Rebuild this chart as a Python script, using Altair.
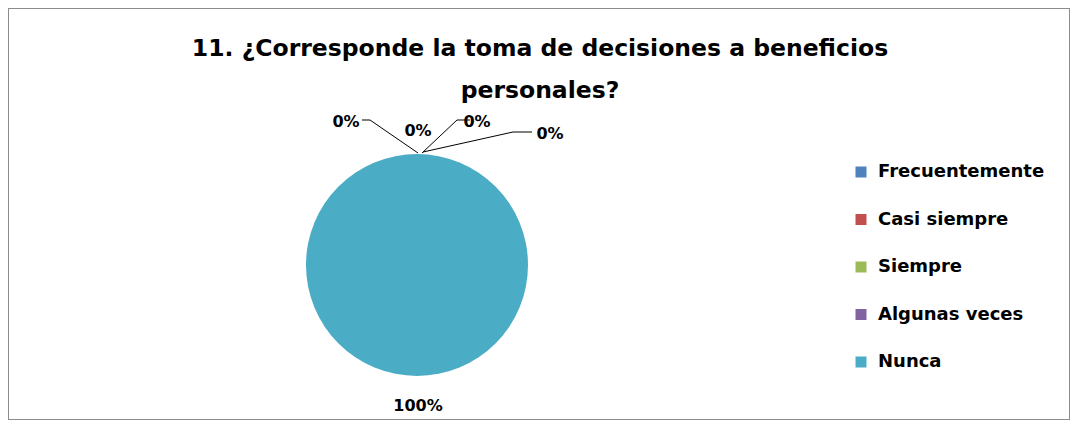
import altair as alt
import pandas as pd

# ---- data ----
categories = ["Frecuentemente", "Casi siempre", "Siempre", "Algunas veces", "Nunca"]
percentages = [0, 0, 0, 0, 100]
colors = ["#4F81BD", "#C0504D", "#9BBB59", "#8064A2", "#4BACC6"]
title_lines = ["11. ¿Corresponde la toma de decisiones a beneficios", "personales?"]

# ---- layout (pixels inside the view) ----
W, H = 1062, 412
CX, CY, R = 409, 257, 111
label_x = [338, 410, 469, 542, 410]
label_y = [114, 123, 114, 126, 398]
# leader line paths per small label: list of (x, y) points
leaders = {
    "Frecuentemente": [(354, 112), (362, 112), (410, 145)],
    "Siempre": [(462, 112), (449, 112), (414, 145)],
    "Algunas veces": [(524, 124), (505, 124), (415, 144)],
}

df = pd.DataFrame({
    "cat": categories,
    "pct": percentages,
    "order": list(range(len(categories))),
    "label": [f"{p}%" for p in percentages],
    "lx": label_x,
    "ly": label_y,
})

rows = []
for cat, pts in leaders.items():
    for i, (x, y) in enumerate(pts):
        rows.append({"cat": cat, "i": i, "x": x, "y": y})
ldf = pd.DataFrame(rows)

tdf = pd.DataFrame({"t": title_lines, "tx": [W / 2 + 1, W / 2 + 1], "ty": [41, 83]})

color_scale = alt.Scale(domain=categories, range=colors)

pie = alt.Chart(df).mark_arc(outerRadius=R).encode(
    theta=alt.Theta("pct:Q", stack=True),
    color=alt.Color(
        "cat:N",
        scale=color_scale,
        sort=categories,
        legend=alt.Legend(
            title=None,
            orient="none",
            legendX=844,
            legendY=155,
            symbolType="square",
            symbolSize=121,
            symbolStrokeWidth=0,
            labelFont="DejaVu Sans",
            labelFontWeight="bold",
            labelFontSize=18,
            labelColor="#000000",
            labelOffset=8,
            rowPadding=29.5,
            padding=0,
            labelLimit=300,
        ),
    ),
    order=alt.Order("order:Q"),
    x=alt.value(CX),
    y=alt.value(CY),
)

lines = alt.Chart(ldf).mark_line(color="#000000", strokeWidth=1).encode(
    x=alt.X("x:Q", scale=None, axis=None),
    y=alt.Y("y:Q", scale=None, axis=None),
    detail="cat:N",
    order="i:Q",
)

labels = alt.Chart(df).mark_text(
    font="DejaVu Sans", fontWeight="bold", fontSize=16, color="#000000",
    align="center", baseline="middle",
).encode(
    x=alt.X("lx:Q", scale=None, axis=None),
    y=alt.Y("ly:Q", scale=None, axis=None),
    text="label:N",
)

title = alt.Chart(tdf).mark_text(
    font="DejaVu Sans", fontWeight="bold", fontSize=23.5, color="#000000",
    align="center", baseline="middle",
).encode(
    x=alt.X("tx:Q", scale=None, axis=None),
    y=alt.Y("ty:Q", scale=None, axis=None),
    text="t:N",
)

chart = alt.layer(pie, lines, labels, title).properties(
    width=W,
    height=H,
    padding=0,
    autosize=alt.AutoSizeParams(type="fit", contains="padding"),
).configure_view(
    stroke="#8c8c8c", strokeWidth=2
)

chart.save("out.html", embed_options={"renderer": "svg", "actions": False})
